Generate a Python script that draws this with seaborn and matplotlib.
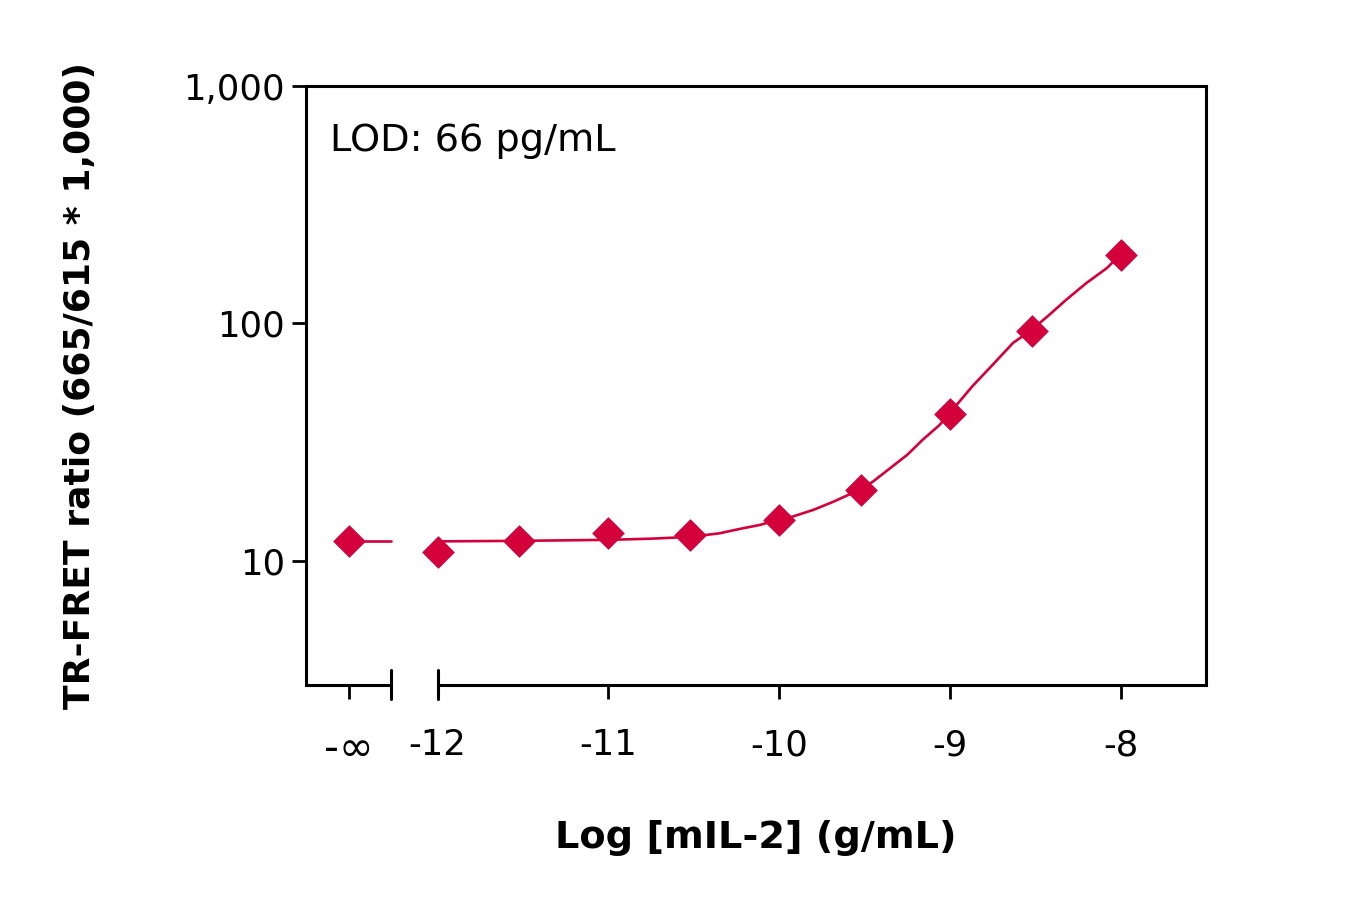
import numpy as np
import pandas as pd
import matplotlib
matplotlib.use("Agg")
import matplotlib.pyplot as plt
import seaborn as sns

# ---- data ----
point_log_conc = [None, -12.0, -11.52, -11.0, -10.52, -10.0, -9.52, -9.0, -8.52, -8.0]
point_ratio = [12.1, 10.9, 12.1, 13.1, 12.9, 14.9, 19.9, 41.6, 93.0, 194.0]

curve_log_conc = [-12.00, -11.53, -11.00, -10.75, -10.52, -10.35, -10.23, -10.11, -10.01,
                  -9.92, -9.80, -9.68, -9.53, -9.45, -9.35, -9.25, -9.16, -9.06, -9.00,
                  -8.87, -8.75, -8.63, -8.53, -8.43, -8.32, -8.20, -8.08, -8.01]
curve_ratio = [12.08, 12.14, 12.26, 12.40, 12.62, 13.06, 13.63, 14.18, 14.88,
               15.37, 16.39, 17.77, 19.91, 21.58, 24.56, 27.95, 32.32, 37.37, 42.0,
               54.2, 66.9, 82.8, 93.0, 106.8, 125.6, 148.1, 171.2, 192.4]
blank_ratio_line = 12.1

x_tick_values = [-12, -11, -10, -9, -8]
x_tick_labels = ["-12", "-11", "-10", "-9", "-8"]
y_tick_values = [10, 100, 1000]
y_tick_labels = ["10", "100", "1,000"]

lod_text = "LOD: 66 pg/mL"
x_label = "Log [mIL-2] (g/mL)"
y_label = "TR-FRET ratio (665/615 * 1,000)"

# ---- layout / style ----
NEG_INF_POS = -12.52
BREAK_LEFT = -12.27
X_MIN, X_MAX = -12.77, -7.50
Y_MIN, Y_MAX = 3.0, 1000.0
RED = "#D4003C"

sns.set_theme(style="ticks")
plt.rcParams["font.family"] = ["DejaVu Sans"]

fig = plt.figure(figsize=(13.6, 9.0), dpi=100)
ax = fig.add_axes([0.225, 0.2389, 0.6618, 0.6655])

xs = [NEG_INF_POS if v is None else v for v in point_log_conc]
pts = pd.DataFrame({"x": xs, "y": point_ratio})
curve = pd.DataFrame({"x": curve_log_conc, "y": curve_ratio})
blank = pd.DataFrame({"x": [NEG_INF_POS, BREAK_LEFT], "y": [blank_ratio_line, blank_ratio_line]})

sns.lineplot(data=curve, x="x", y="y", ax=ax, color=RED, linewidth=1.9, sort=False, zorder=2)
sns.lineplot(data=blank, x="x", y="y", ax=ax, color=RED, linewidth=1.9, sort=False, zorder=2)
sns.scatterplot(data=pts, x="x", y="y", ax=ax, color=RED, marker="D", s=260,
                edgecolor=RED, linewidth=0.5, zorder=3)

ax.set_yscale("log")
ax.set_xlim(X_MIN, X_MAX)
ax.set_ylim(Y_MIN, Y_MAX)

ax.set_yticks(y_tick_values)
ax.set_yticklabels(y_tick_labels)
ax.yaxis.set_minor_locator(matplotlib.ticker.NullLocator())
ax.set_xticks([NEG_INF_POS] + x_tick_values)
ax.set_xticklabels(["-∞"] + x_tick_labels)

ax.tick_params(axis="both", direction="out", length=10, width=2.0, color="black",
               labelsize=25.5, labelcolor="black")
ax.tick_params(axis="x", pad=21)
ax.tick_params(axis="y", pad=5)
for lbl in ax.get_xticklabels():
    if lbl.get_text() == "-∞":
        lbl.set_fontsize(30)

for side in ["left", "top", "right"]:
    ax.spines[side].set_linewidth(2.2)
    ax.spines[side].set_color("black")
ax.spines["bottom"].set_visible(False)

# broken bottom axis
tr = ax.get_xaxis_transform()
ax.plot([X_MIN, BREAK_LEFT], [0, 0], transform=tr, color="black", lw=2.2, clip_on=False,
        solid_capstyle="butt")
ax.plot([-12.0, X_MAX], [0, 0], transform=tr, color="black", lw=2.2, clip_on=False,
        solid_capstyle="butt")
for bx in [BREAK_LEFT, -12.0]:
    ax.plot([bx, bx], [-0.024, 0.025], transform=tr, color="black", lw=2.2, clip_on=False)

ax.text(0.027, 0.908, lod_text, transform=ax.transAxes, fontsize=27.5, color="black",
        ha="left", va="center")

ax.set_xlabel(x_label, fontsize=27.5, fontweight="bold", labelpad=36, color="black")
ax.set_ylabel(y_label, fontsize=26, fontweight="bold", labelpad=62, color="black")

fig.savefig("out.png", dpi=100, facecolor="white")
